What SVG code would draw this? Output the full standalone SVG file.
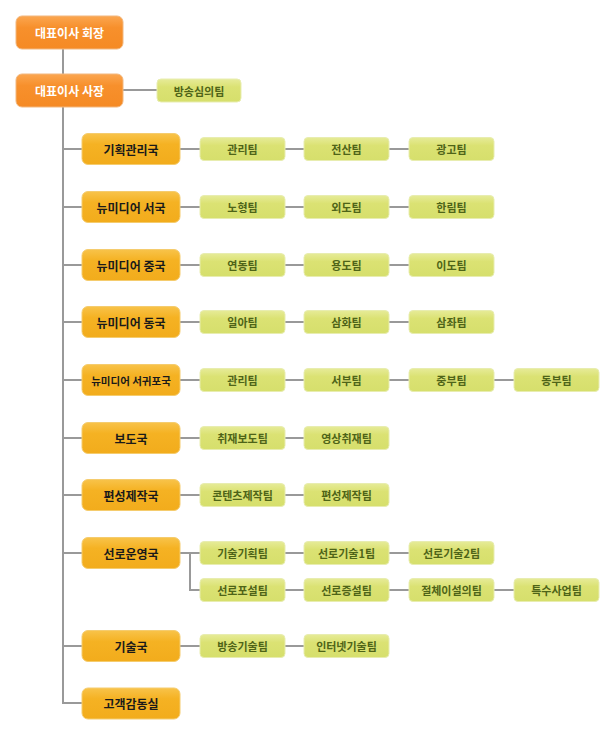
<svg xmlns="http://www.w3.org/2000/svg" width="616" height="743" viewBox="0 0 616 743">
<defs>
<linearGradient id="gO" x1="0" y1="0" x2="0" y2="1"><stop offset="0" stop-color="#FBA650"/><stop offset="0.35" stop-color="#F7902C"/><stop offset="1" stop-color="#F58A24"/></linearGradient>
<linearGradient id="gD" x1="0" y1="0" x2="0" y2="1"><stop offset="0" stop-color="#F8C34A"/><stop offset="0.35" stop-color="#F5B223"/><stop offset="1" stop-color="#F2AC1C"/></linearGradient>
<linearGradient id="gT" x1="0" y1="0" x2="0" y2="1"><stop offset="0" stop-color="#E6EB98"/><stop offset="0.35" stop-color="#DBE273"/><stop offset="1" stop-color="#D6DF6C"/></linearGradient>
</defs>
<style>
.o{fill:url(#gO);stroke:#F2B77E;stroke-width:1}
.d{fill:url(#gD);stroke:#F5CC6E;stroke-width:1}
.t{fill:url(#gT);stroke:#E8EDB0;stroke-width:1}
text{font-family:"Noto Sans CJK KR","Noto Sans",sans-serif;font-weight:bold;font-size:11px;text-anchor:middle;dominant-baseline:central}
.ow{fill:#FFFFFF;font-size:12px}
.dk{fill:#1A1A1A;font-size:12px}
.tg{fill:#4E6418;font-size:11px}
.c line,.c path{stroke:#999999;stroke-width:2;fill:none}
</style>
<rect width="616" height="743" fill="#FFFFFF"/>
<g class="c" id="connectors">
<line x1="63" y1="49" x2="63" y2="704"/>
<line x1="123" y1="90" x2="157" y2="90"/>
<line x1="63" y1="149" x2="82" y2="149"/><line x1="180" y1="149" x2="200" y2="149"/><line x1="285" y1="149" x2="304" y2="149"/><line x1="389" y1="149" x2="409" y2="149"/>
<line x1="63" y1="207" x2="82" y2="207"/><line x1="180" y1="207" x2="200" y2="207"/><line x1="285" y1="207" x2="304" y2="207"/><line x1="389" y1="207" x2="409" y2="207"/>
<line x1="63" y1="265" x2="82" y2="265"/><line x1="180" y1="265" x2="200" y2="265"/><line x1="285" y1="265" x2="304" y2="265"/><line x1="389" y1="265" x2="409" y2="265"/>
<line x1="63" y1="322" x2="82" y2="322"/><line x1="180" y1="322" x2="200" y2="322"/><line x1="285" y1="322" x2="304" y2="322"/><line x1="389" y1="322" x2="409" y2="322"/>
<line x1="63" y1="380" x2="82" y2="380"/><line x1="180" y1="380" x2="200" y2="380"/><line x1="285" y1="380" x2="304" y2="380"/><line x1="389" y1="380" x2="409" y2="380"/><line x1="493" y1="380" x2="514" y2="380"/>
<line x1="63" y1="438" x2="82" y2="438"/><line x1="180" y1="438" x2="200" y2="438"/><line x1="285" y1="438" x2="304" y2="438"/>
<line x1="63" y1="495" x2="82" y2="495"/><line x1="180" y1="495" x2="200" y2="495"/><line x1="285" y1="495" x2="304" y2="495"/>
<line x1="63" y1="553" x2="82" y2="553"/><line x1="180" y1="553" x2="200" y2="553"/><line x1="285" y1="553" x2="304" y2="553"/><line x1="389" y1="553" x2="409" y2="553"/>
<path d="M190 553 V590 H200"/><line x1="285" y1="590" x2="304" y2="590"/><line x1="389" y1="590" x2="409" y2="590"/><line x1="493" y1="590" x2="514" y2="590"/>
<line x1="63" y1="646" x2="82" y2="646"/><line x1="180" y1="646" x2="200" y2="646"/><line x1="285" y1="646" x2="304" y2="646"/>
<line x1="63" y1="703" x2="82" y2="703"/>
</g>
<g id="ceo"><rect class="o" x="16" y="16" width="107" height="33" rx="6"/><text class="ow" x="69.5" y="32.5">대표이사 회장</text></g>
<g id="president"><rect class="o" x="16" y="74" width="107" height="33" rx="6"/><text class="ow" x="69.5" y="90.5">대표이사 사장</text></g>
<g id="t-review"><rect class="t" x="157" y="79" width="84" height="23" rx="4"/><text class="tg" x="199" y="90.5">방송심의팀</text></g>

<g id="d1"><rect class="d" x="82" y="133.5" width="98" height="31" rx="6"/><text class="dk" x="131" y="149">기획관리국</text></g>
<g id="d1t1"><rect class="t" x="200" y="137.5" width="85" height="23" rx="4"/><text class="tg" x="242.5" y="149">관리팀</text></g>
<g id="d1t2"><rect class="t" x="304" y="137.5" width="85" height="23" rx="4"/><text class="tg" x="346.5" y="149">전산팀</text></g>
<g id="d1t3"><rect class="t" x="409" y="137.5" width="85" height="23" rx="4"/><text class="tg" x="451.5" y="149">광고팀</text></g>

<g id="d2"><rect class="d" x="82" y="191.5" width="98" height="31" rx="6"/><text class="dk" x="131" y="207">뉴미디어 서국</text></g>
<g id="d2t1"><rect class="t" x="200" y="195.5" width="85" height="23" rx="4"/><text class="tg" x="242.5" y="207">노형팀</text></g>
<g id="d2t2"><rect class="t" x="304" y="195.5" width="85" height="23" rx="4"/><text class="tg" x="346.5" y="207">외도팀</text></g>
<g id="d2t3"><rect class="t" x="409" y="195.5" width="85" height="23" rx="4"/><text class="tg" x="451.5" y="207">한림팀</text></g>

<g id="d3"><rect class="d" x="82" y="249.5" width="98" height="31" rx="6"/><text class="dk" x="131" y="265">뉴미디어 중국</text></g>
<g id="d3t1"><rect class="t" x="200" y="253.5" width="85" height="23" rx="4"/><text class="tg" x="242.5" y="265">연동팀</text></g>
<g id="d3t2"><rect class="t" x="304" y="253.5" width="85" height="23" rx="4"/><text class="tg" x="346.5" y="265">용도팀</text></g>
<g id="d3t3"><rect class="t" x="409" y="253.5" width="85" height="23" rx="4"/><text class="tg" x="451.5" y="265">이도팀</text></g>

<g id="d4"><rect class="d" x="82" y="306.5" width="98" height="31" rx="6"/><text class="dk" x="131" y="322">뉴미디어 동국</text></g>
<g id="d4t1"><rect class="t" x="200" y="310.5" width="85" height="23" rx="4"/><text class="tg" x="242.5" y="322">일아팀</text></g>
<g id="d4t2"><rect class="t" x="304" y="310.5" width="85" height="23" rx="4"/><text class="tg" x="346.5" y="322">삼화팀</text></g>
<g id="d4t3"><rect class="t" x="409" y="310.5" width="85" height="23" rx="4"/><text class="tg" x="451.5" y="322">삼좌팀</text></g>

<g id="d5"><rect class="d" x="82" y="364.5" width="98" height="31" rx="6"/><text class="dk" x="131" y="380" style="font-size:10.5px">뉴미디어 서귀포국</text></g>
<g id="d5t1"><rect class="t" x="200" y="368.5" width="85" height="23" rx="4"/><text class="tg" x="242.5" y="380">관리팀</text></g>
<g id="d5t2"><rect class="t" x="304" y="368.5" width="85" height="23" rx="4"/><text class="tg" x="346.5" y="380">서부팀</text></g>
<g id="d5t3"><rect class="t" x="409" y="368.5" width="85" height="23" rx="4"/><text class="tg" x="451.5" y="380">중부팀</text></g>
<g id="d5t4"><rect class="t" x="514" y="368.5" width="85" height="23" rx="4"/><text class="tg" x="556.5" y="380">동부팀</text></g>

<g id="d6"><rect class="d" x="82" y="422.5" width="98" height="31" rx="6"/><text class="dk" x="131" y="438">보도국</text></g>
<g id="d6t1"><rect class="t" x="200" y="426.5" width="85" height="23" rx="4"/><text class="tg" x="242.5" y="438">취재보도팀</text></g>
<g id="d6t2"><rect class="t" x="304" y="426.5" width="85" height="23" rx="4"/><text class="tg" x="346.5" y="438">영상취재팀</text></g>

<g id="d7"><rect class="d" x="82" y="479.5" width="98" height="31" rx="6"/><text class="dk" x="131" y="495">편성제작국</text></g>
<g id="d7t1"><rect class="t" x="200" y="483.5" width="85" height="23" rx="4"/><text class="tg" x="242.5" y="495">콘텐츠제작팀</text></g>
<g id="d7t2"><rect class="t" x="304" y="483.5" width="85" height="23" rx="4"/><text class="tg" x="346.5" y="495">편성제작팀</text></g>

<g id="d8"><rect class="d" x="82" y="537.5" width="98" height="31" rx="6"/><text class="dk" x="131" y="553">선로운영국</text></g>
<g id="d8t1"><rect class="t" x="200" y="541.5" width="85" height="23" rx="4"/><text class="tg" x="242.5" y="553">기술기획팀</text></g>
<g id="d8t2"><rect class="t" x="304" y="541.5" width="85" height="23" rx="4"/><text class="tg" x="346.5" y="553">선로기술1팀</text></g>
<g id="d8t3"><rect class="t" x="409" y="541.5" width="85" height="23" rx="4"/><text class="tg" x="451.5" y="553">선로기술2팀</text></g>
<g id="d8t4"><rect class="t" x="200" y="578.5" width="85" height="23" rx="4"/><text class="tg" x="242.5" y="590">선로포설팀</text></g>
<g id="d8t5"><rect class="t" x="304" y="578.5" width="85" height="23" rx="4"/><text class="tg" x="346.5" y="590">선로증설팀</text></g>
<g id="d8t6"><rect class="t" x="409" y="578.5" width="85" height="23" rx="4"/><text class="tg" x="451.5" y="590">절체이설의팀</text></g>
<g id="d8t7"><rect class="t" x="514" y="578.5" width="85" height="23" rx="4"/><text class="tg" x="556.5" y="590">특수사업팀</text></g>

<g id="d9"><rect class="d" x="82" y="630.5" width="98" height="31" rx="6"/><text class="dk" x="131" y="646">기술국</text></g>
<g id="d9t1"><rect class="t" x="200" y="634.5" width="85" height="23" rx="4"/><text class="tg" x="242.5" y="646">방송기술팀</text></g>
<g id="d9t2"><rect class="t" x="304" y="634.5" width="85" height="23" rx="4"/><text class="tg" x="346.5" y="646">인터넷기술팀</text></g>

<g id="d10"><rect class="d" x="82" y="688" width="98" height="31" rx="6"/><text class="dk" x="131" y="703.5">고객감동실</text></g>
</svg>
